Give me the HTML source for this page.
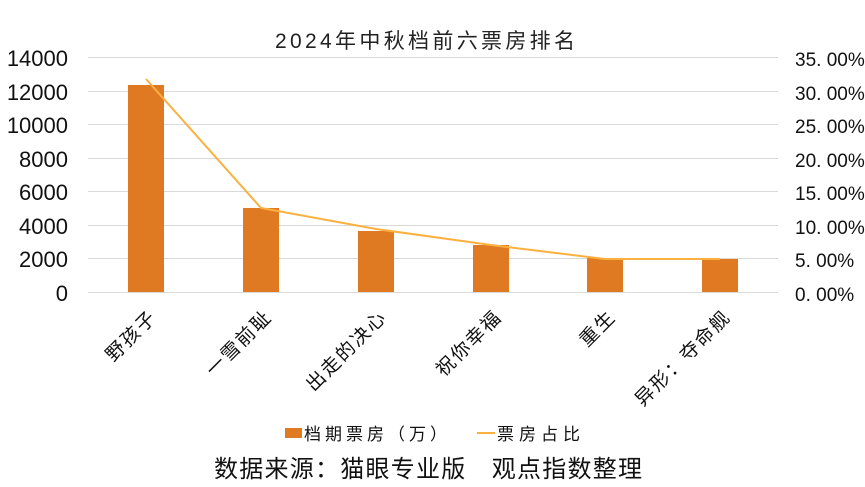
<!DOCTYPE html>
<html><head><meta charset="utf-8"><style>
html,body{margin:0;padding:0;background:#fff;}
svg{display:block;font-family:"Liberation Sans","Noto Sans CJK SC",sans-serif;}
</style></head><body>
<svg width="865" height="487" viewBox="0 0 865 487">
<text x="275" y="48" font-size="21" textLength="300" lengthAdjust="spacing" fill="#222">2024年中秋档前六票房排名</text>
<g stroke="#d9d9d9" stroke-width="1">
<line x1="88" y1="57.5" x2="778" y2="57.5"/>
<line x1="88" y1="91.5" x2="778" y2="91.5"/>
<line x1="88" y1="124.5" x2="778" y2="124.5"/>
<line x1="88" y1="158.5" x2="778" y2="158.5"/>
<line x1="88" y1="191.5" x2="778" y2="191.5"/>
<line x1="88" y1="225.5" x2="778" y2="225.5"/>
<line x1="88" y1="258.5" x2="778" y2="258.5"/>
<line x1="88" y1="292.5" x2="778" y2="292.5"/>
</g>
<g font-size="22" fill="#111" text-anchor="end">
<text x="68" y="66">14000</text>
<text x="68" y="100">12000</text>
<text x="68" y="133">10000</text>
<text x="68" y="167">8000</text>
<text x="68" y="200">6000</text>
<text x="68" y="234">4000</text>
<text x="68" y="267">2000</text>
<text x="68" y="301">0</text>
</g>
<g font-size="19" fill="#111">
<text x="795" y="66">35. 00%</text>
<text x="795" y="100">30. 00%</text>
<text x="795" y="133">25. 00%</text>
<text x="795" y="167">20. 00%</text>
<text x="795" y="200">15. 00%</text>
<text x="795" y="234">10. 00%</text>
<text x="795" y="267">5. 00%</text>
<text x="795" y="301">0. 00%</text>
</g>
<g fill="#e07a22">
<rect x="128" y="85" width="36" height="207"/>
<rect x="243" y="208" width="36" height="84"/>
<rect x="358" y="231" width="36" height="61"/>
<rect x="473" y="245" width="36" height="47"/>
<rect x="587" y="258" width="36" height="34"/>
<rect x="702" y="259" width="36" height="33"/>
</g>
<polyline points="146,79 261,208 376,229 491,245 605,259 720,259" fill="none" stroke="#fbb040" stroke-width="2"/>
<g font-size="19" letter-spacing="2" fill="#111" text-anchor="end">
<text transform="translate(158,318) rotate(-45)">野孩子</text>
<text transform="translate(273,318) rotate(-45)">一雪前耻</text>
<text transform="translate(388,318) rotate(-45)">出走的决心</text>
<text transform="translate(503,318) rotate(-45)">祝你幸福</text>
<text transform="translate(617,318) rotate(-45)">重生</text>
<text transform="translate(732,318) rotate(-45)">异形：夺命舰</text>
</g>
<rect x="285" y="428" width="17" height="10" fill="#e07a22"/>
<text x="304" y="440" font-size="17" textLength="143" lengthAdjust="spacing" fill="#111">档期票房（万）</text>
<line x1="477" y1="433" x2="495" y2="433" stroke="#fbb040" stroke-width="2"/>
<text x="497" y="440" font-size="17" textLength="83" lengthAdjust="spacing" fill="#111">票房占比</text>
<text x="214" y="477" font-size="24" textLength="428" lengthAdjust="spacing" fill="#111">数据来源：猫眼专业版　观点指数整理</text>
</svg>
</body></html>
